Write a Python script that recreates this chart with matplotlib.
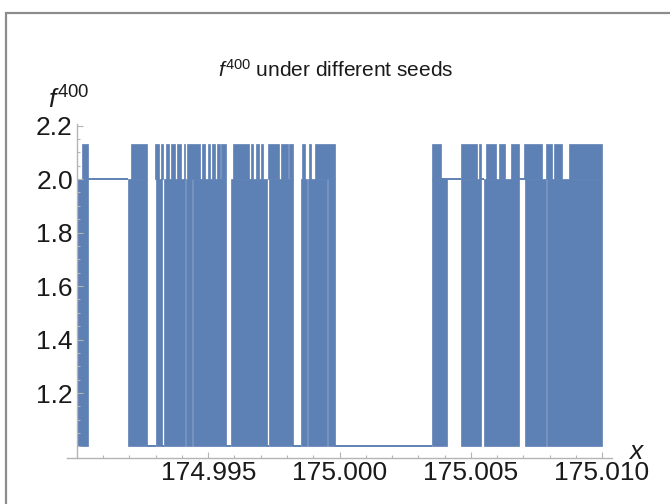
import matplotlib
matplotlib.use("Agg")
import matplotlib.pyplot as plt
from matplotlib.patches import Rectangle
from matplotlib.ticker import MultipleLocator, FixedLocator

plt.rcParams['font.family'] = ['Liberation Sans', 'DejaVu Sans']
plt.rcParams['mathtext.fontset'] = 'custom'
plt.rcParams['mathtext.rm'] = 'Liberation Sans'
plt.rcParams['mathtext.it'] = 'Liberation Sans:italic'

title = r"$f^{400}$ under different seeds"
y_label = r"$f^{400}$"
x_label = "x"

x_ticks = [174.995, 175.000, 175.005, 175.010]
x_tick_labels = ["174.995", "175.000", "175.005", "175.010"]
y_ticks = [1.2, 1.4, 1.6, 1.8, 2.0, 2.2]
y_tick_labels = ["1.2", "1.4", "1.6", "1.8", "2.0", "2.2"]

# the three levels f jumps between
low, mid, high = 1.0, 2.0, 2.13

# stretches where f flips 1 <-> 2 so fast the line looks solid
band_start = [174.99000, 174.99196, 174.99301, 174.99333, 174.99414, 174.99441,
              174.99585, 174.99733, 174.99855, 174.99880, 174.99955,
              175.00354, 175.00464, 175.00552, 175.00706, 175.00790]
band_end = [174.99042, 174.99267, 174.99324, 174.99412, 174.99439, 174.99569,
            174.99722, 174.99823, 174.99877, 174.99953, 174.99981,
            175.00411, 175.00540, 175.00685, 175.00787, 175.01000]

# stretches where it also jumps up to the top level
spike_start = [174.99020, 174.99206, 174.99299, 174.99321, 174.99340, 174.99360,
               174.99381, 174.99406, 174.99418, 174.99477, 174.99498, 174.99515,
               174.99532, 174.99549, 174.99593, 174.99663, 174.99682, 174.99701,
               174.99727, 174.99778, 174.99809, 174.99859, 174.99882, 174.99908,
               175.00354, 175.00464, 175.00533, 175.00559, 175.00609, 175.00655,
               175.00704, 175.00788, 175.00818, 175.00876]
spike_end = [174.99041, 174.99266, 174.99314, 174.99329, 174.99352, 174.99375,
             174.99397, 174.99413, 174.99467, 174.99489, 174.99507, 174.99524,
             174.99543, 174.99568, 174.99657, 174.99672, 174.99695, 174.99708,
             174.99771, 174.99802, 174.99821, 174.99870, 174.99893, 174.99981,
             175.00388, 175.00525, 175.00540, 175.00598, 175.00632, 175.00685,
             175.00773, 175.00811, 175.00849, 175.01000]

# flat stretches
flat_start = [174.99042, 174.99267, 174.99324, 174.99569, 174.99722, 174.99823,
              174.99981, 175.00388, 175.00540, 175.00685]
flat_end = [174.99196, 174.99301, 174.99333, 174.99585, 174.99733, 174.99855,
            175.00354, 175.00464, 175.00552, 175.00706]
flat_level = [2.0, 1.0, 1.0, 1.0, 1.0, 1.0, 1.0, 2.0, 2.0, 2.0]

blue = '#5e81b5'
axis_gray = '#b4b4b4'
text_col = '#1a1a1a'

fig = plt.figure(figsize=(6.7, 5.04), dpi=100)
ax = fig.add_axes([67 / 670, 46 / 504, 545 / 670, 333.8 / 504])

for s, e in zip(band_start, band_end):
    ax.fill_between([s, e], low, mid, color=blue, lw=0.5)
for s, e in zip(spike_start, spike_end):
    ax.fill_between([s, e], mid, high, color=blue, lw=0.5)
for s, e, lv in zip(flat_start, flat_end, flat_level):
    ax.plot([s, e], [lv, lv], color=blue, lw=1.4, solid_capstyle='butt')

ax.set_xlim(174.98962, 175.01038)
ax.set_ylim(0.957, 2.205)

ax.spines['top'].set_visible(False)
ax.spines['right'].set_visible(False)
ax.spines['left'].set_position(('data', 174.990))
for sp in ['left', 'bottom']:
    ax.spines[sp].set_color(axis_gray)
    ax.spines[sp].set_linewidth(1.0)

ax.xaxis.set_major_locator(FixedLocator(x_ticks))
ax.set_xticklabels(x_tick_labels)
ax.xaxis.set_minor_locator(MultipleLocator(0.001))
ax.yaxis.set_major_locator(FixedLocator(y_ticks))
ax.set_yticklabels(y_tick_labels)
ax.yaxis.set_minor_locator(MultipleLocator(0.05))

ax.tick_params(which='both', direction='in', color=axis_gray, width=0.8)
ax.tick_params(which='major', length=4)
ax.tick_params(which='minor', length=2.2)
ax.tick_params(axis='x', labelsize=19, labelcolor=text_col, pad=2)
ax.tick_params(axis='y', labelsize=19, labelcolor=text_col, pad=3)
ax.set_facecolor('none')

fig.text(336 / 670, 1 - 70 / 504, title, fontsize=15, color=text_col,
         ha='center', va='center')
fig.text(48 / 670, 1 - 100 / 504, y_label, fontsize=19, color=text_col,
         ha='left', va='center')
fig.text(636 / 670, 1 - 452 / 504, x_label, fontsize=19, color=text_col,
         style='italic', ha='center', va='center')

# grey frame of the screenshot, only top and left edges show
fig.add_artist(Rectangle((6 / 670, -0.5), 1.5, 0.5 + 1 - 13 / 504,
                         transform=fig.transFigure, fill=False,
                         edgecolor='#8c8c8c', lw=1.6))

fig.savefig("out.png", dpi=100)
